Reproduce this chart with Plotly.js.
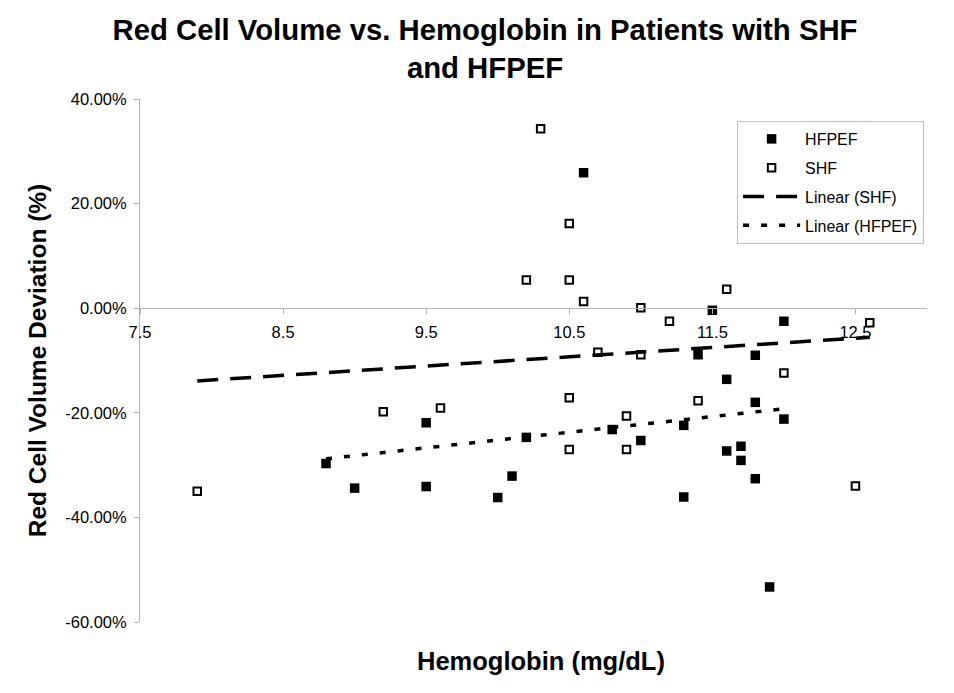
<!DOCTYPE html>
<html>
<head>
<meta charset="utf-8">
<script src="https://cdn.plot.ly/plotly-3.0.1.min.js"></script>
<style>
  html, body { margin: 0; padding: 0; background: #fff; }
  #chart { width: 954px; height: 693px; }
</style>
</head>
<body>
<div id="chart"></div>
<script>
// ---- Data (hemoglobin mg/dL, red cell volume deviation %) ----
const hfpefHb  = [8.8, 9.0, 9.5, 9.5, 10.0, 10.1, 10.2, 10.6, 10.8, 11.0, 11.3, 11.3,
                  11.4, 11.5, 11.6, 11.6, 11.7, 11.7, 11.8, 11.8, 11.8, 11.9, 12.0, 12.0];
const hfpefDev = [-29.7, -34.4, -21.9, -34.1, -36.2, -32.1, -24.7, 25.9, -23.2, -25.3, -22.4, -36.1,
                  -8.9, -0.4, -13.6, -27.3, -26.4, -29.1, -9.0, -18.0, -32.6, -53.3, -2.5, -21.2];

const shfHb  = [7.9, 9.2, 9.6, 10.2, 10.3, 10.5, 10.5, 10.6, 10.5, 10.5, 10.7,
                11.0, 11.0, 10.9, 10.9, 11.2, 11.4, 11.6, 12.0, 12.6, 12.5];
const shfDev = [-35.0, -19.8, -19.1, 5.4, 34.3, 16.2, 5.4, 1.3, -17.1, -27.0, -8.4,
                0.1, -8.9, -20.6, -27.0, -2.5, -17.7, 3.6, -12.4, -2.8, -34.0];

const xTickVals   = [7.5, 8.5, 9.5, 10.5, 11.5, 12.5];
const xTickLabels = ['7.5', '8.5', '9.5', '10.5', '11.5', '12.5'];
const yTickVals   = [-60, -40, -20, 0, 20, 40];
const yTickLabels = ['-60.00%', '-40.00%', '-20.00%', '0.00%', '20.00%', '40.00%'];

// Least-squares linear trend over the data range (as Excel's "Linear" trendline)
function linearTrend(xs, ys) {
  const n = xs.length;
  const mx = xs.reduce((a, b) => a + b, 0) / n;
  const my = ys.reduce((a, b) => a + b, 0) / n;
  let sxy = 0, sxx = 0;
  for (let i = 0; i < n; i++) { sxy += (xs[i] - mx) * (ys[i] - my); sxx += (xs[i] - mx) ** 2; }
  const slope = sxy / sxx, icpt = my - slope * mx;
  const x0 = Math.min(...xs), x1 = Math.max(...xs);
  return { x: [x0, x1], y: [icpt + slope * x0, icpt + slope * x1] };
}
const shfTrend = linearTrend(shfHb, shfDev);
const hfpefTrend = linearTrend(hfpefHb, hfpefDev);

const FONT = 'Liberation Sans, Arial, Helvetica, sans-serif';
const AXIS_GRAY = '#b3b3b3';

const traces = [
  { type: 'scatter', mode: 'markers', name: 'HFPEF', x: hfpefHb, y: hfpefDev,
    legendgroup: 'a',
    marker: { symbol: 'square', size: 9.5, color: '#000' } },
  { type: 'scatter', mode: 'markers', name: 'SHF', x: shfHb, y: shfDev,
    legendgroup: 'b',
    marker: { symbol: 'square', size: 7.5, color: '#fff', line: { color: '#000', width: 2 } } },
  { type: 'scatter', mode: 'lines', name: 'Linear (SHF)', x: shfTrend.x, y: shfTrend.y,
    legendgroup: 'c',
    line: { color: '#000', width: 3.5, dash: '21px,12px' } },
  { type: 'scatter', mode: 'lines', name: 'Linear (HFPEF)', x: hfpefTrend.x, y: hfpefTrend.y,
    legendgroup: 'd',
    line: { color: '#000', width: 3.5, dash: '6px,12px' } }
];

const layout = {
  width: 954, height: 693,
  paper_bgcolor: '#fff', plot_bgcolor: '#fff',
  margin: { l: 139.5, r: 27, t: 99, b: 71 },
  font: { family: FONT, color: '#000' },
  title: {
    text: '<b>Red Cell Volume vs. Hemoglobin in Patients with SHF<br>and HFPEF</b>',
    font: { family: FONT, size: 29.3, color: '#000' },
    xref: 'container', x: 0.5084, xanchor: 'center',
    yref: 'container', y: 0.942, yanchor: 'top'
  },
  xaxis: {
    range: [7.5, 13.0],
    anchor: 'free', position: 0.6,
    showgrid: false, zeroline: false,
    showline: true, linecolor: AXIS_GRAY, linewidth: 1,
    ticks: 'outside', ticklen: 5, tickcolor: AXIS_GRAY, tickwidth: 1,
    tickvals: xTickVals, ticktext: xTickLabels,
    ticklabelstandoff: 4,
    tickfont: { family: FONT, size: 16.5, color: '#000' }
  },
  yaxis: {
    range: [-60, 40],
    showgrid: false, zeroline: false,
    showline: true, linecolor: AXIS_GRAY, linewidth: 1,
    ticks: 'outside', ticklen: 5, tickcolor: AXIS_GRAY, tickwidth: 1,
    tickvals: yTickVals, ticktext: yTickLabels,
    ticklabelstandoff: 4,
    tickfont: { family: FONT, size: 16.5, color: '#000' },
    title: { text: '<b>Red Cell Volume Deviation (%)</b>', font: { family: FONT, size: 24.5, color: '#000' }, standoff: 11 }
  },
  annotations: [{
    text: '<b>Hemoglobin (mg/dL)</b>',
    xref: 'paper', yref: 'paper', x: 0.51, y: -0.0746,
    xanchor: 'center', yanchor: 'middle', showarrow: false,
    font: { family: FONT, size: 25.5, color: '#000' }
  }],
  showlegend: true,
  legend: {
    x: 0.7587, y: 0.958, xanchor: 'left', yanchor: 'top',
    bgcolor: '#fff', bordercolor: '#c0c0c0', borderwidth: 1,
    font: { family: FONT, size: 16, color: '#000' },
    traceorder: 'grouped', tracegroupgap: 5,
    itemwidth: 57
  }
};

Plotly.newPlot('chart', traces, layout, { displayModeBar: false, staticPlot: true });
</script>
</body>
</html>
